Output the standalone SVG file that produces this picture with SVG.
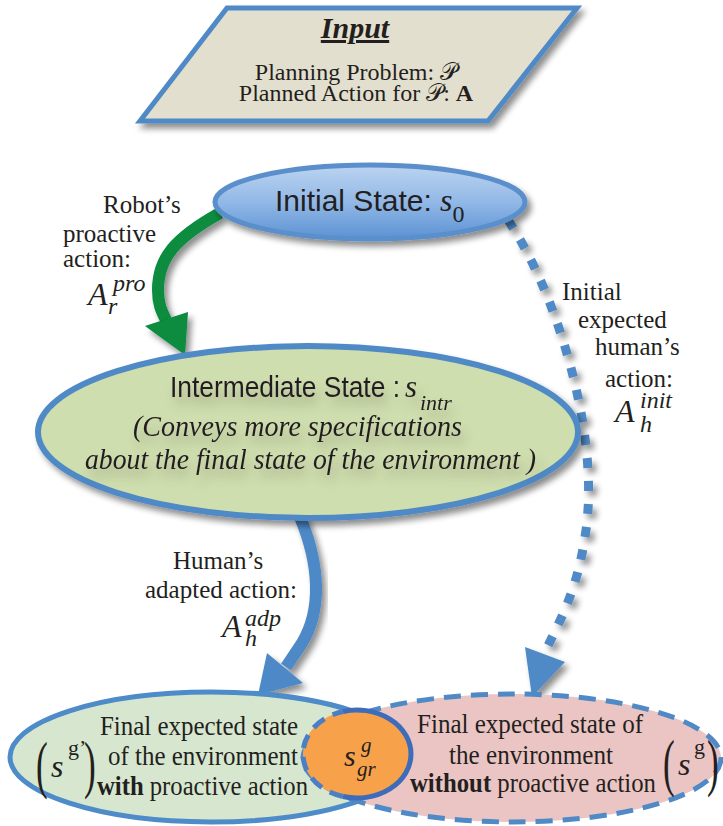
<svg xmlns="http://www.w3.org/2000/svg" width="723" height="826" viewBox="0 0 723 826">
<style>
.serif{font-family:"Liberation Serif","Times New Roman","DejaVu Serif",serif;fill:#231f20}
.sans{font-family:"Liberation Sans","DejaVu Sans",sans-serif;fill:#231f20}
.it{font-style:italic}
.math{font-family:"DejaVu Serif","DejaVu Sans","Liberation Serif",serif;fill:#231f20}
.edge{fill:none;stroke-linecap:butt}
</style>
<defs>
<filter id="sh" x="-10%" y="-10%" width="130%" height="140%">
<feGaussianBlur in="SourceAlpha" stdDeviation="3"/>
<feOffset dx="4" dy="5"/>
<feComponentTransfer><feFuncA type="linear" slope="0.45"/></feComponentTransfer>
<feMerge><feMergeNode/><feMergeNode in="SourceGraphic"/></feMerge>
</filter>
<filter id="tsh" x="-20%" y="-40%" width="140%" height="200%">
<feGaussianBlur in="SourceAlpha" stdDeviation="6"/>
<feOffset dx="4" dy="9"/>
<feComponentTransfer><feFuncA type="linear" slope="0.25"/></feComponentTransfer>
<feMerge><feMergeNode/><feMergeNode in="SourceGraphic"/></feMerge>
</filter>
<linearGradient id="gInit" x1="0" y1="0" x2="0" y2="1">
<stop offset="0" stop-color="#bcd4f1"/>
<stop offset="0.5" stop-color="#92b8e6"/>
<stop offset="1" stop-color="#5b92d3"/>
</linearGradient>
</defs>

<g id="input" filter="url(#sh)">
<polygon points="227,8 577,8 488,121 140,121" fill="#e3dfce" stroke="#4f8ac6" stroke-width="5" stroke-linejoin="miter"/>
</g>
<g id="input-text">
<text class="serif" x="355" y="38" font-size="30" font-weight="bold" font-style="italic" text-anchor="middle" text-decoration="underline">Input</text>
<text class="serif" x="356" y="80" font-size="24" text-anchor="middle">Planning Problem: <tspan class="math">𝒫</tspan></text>
<text class="serif" x="356" y="101" font-size="24" text-anchor="middle">Planned Action for <tspan class="math">𝒫</tspan>: <tspan font-weight="bold">A</tspan></text>
</g>

<g id="connectors">
<g id="e-proactive" filter="url(#sh)">
<path class="edge" d="M 220 213 C 175 238, 158 258, 158 290 C 158 305, 162 312, 166 320" stroke="#078c3f" stroke-width="12"/>
<polygon points="145,326 188,312 185,355" fill="#078c3f"/>
</g>
<g id="e-initial" filter="url(#sh)">
<path class="edge" d="M 508 220 C 555 290, 600 430, 586 530 C 578 590, 560 620, 546 650" stroke="#4f8ac6" stroke-width="9" stroke-dasharray="10 13"/>
<polygon points="525,647 565,662 532,697" fill="#4f8ac6"/>
</g>
<g id="e-adapted" filter="url(#sh)">
<path class="edge" d="M 300 517 C 320 565, 322 610, 302 643 L 286 667" stroke="#4d89c7" stroke-width="12"/>
<polygon points="267,653 303,683 258,695" fill="#4d89c7"/>
</g>
</g>

<g id="initial">
<ellipse cx="370" cy="202" rx="155" ry="37" fill="url(#gInit)" stroke="#5a8fcb" stroke-width="5" filter="url(#sh)"/>
<text class="sans" x="275" y="211" font-size="30">Initial State: <tspan class="serif it" font-size="32">s</tspan><tspan class="serif" font-size="24" dy="11">0</tspan></text>
</g>

<g id="intermediate">
<ellipse cx="308" cy="432" rx="270" ry="86" fill="#cfdeae" stroke="#4f8ac6" stroke-width="6" filter="url(#sh)"/>
<g filter="url(#tsh)">
<text class="sans" x="170" y="397" font-size="29" textLength="230" lengthAdjust="spacingAndGlyphs">Intermediate State :</text>
<text class="serif it" x="405" y="397" font-size="31">s</text>
<text class="serif it" x="420" y="410" font-size="22">intr</text>
<text class="serif it" x="133" y="436" font-size="29" textLength="329" lengthAdjust="spacingAndGlyphs">(Conveys more specifications</text>
<text class="serif it" x="85" y="469" font-size="29" textLength="451" lengthAdjust="spacingAndGlyphs">about the final state of the environment )</text>
</g>
</g>

<g id="final-with">
<ellipse cx="211" cy="757" rx="201" ry="65" fill="#d7e7cf" stroke="#4d8bc9" stroke-width="5"/>
</g>
<g id="final-without">
<ellipse cx="512" cy="758" rx="209" ry="64" fill="#ebc5c3" stroke="#4f8ac6" stroke-width="5" stroke-dasharray="17 10"/>
</g>
<g id="final-with-text">
<text class="serif" x="36" y="786" font-size="64" transform="translate(36 786) scale(0.55 1) translate(-36 -786)">(</text>
<text class="serif it" x="51" y="777" font-size="32">s</text>
<text class="serif" x="68" y="755" font-size="22">g’</text>
<text class="serif" x="84" y="786" font-size="64" transform="translate(84 786) scale(0.55 1) translate(-84 -786)">)</text>
<text class="serif" x="100" y="735" font-size="27" textLength="198" lengthAdjust="spacingAndGlyphs">Final expected state</text>
<text class="serif" x="108" y="765" font-size="27" textLength="190" lengthAdjust="spacingAndGlyphs">of the environment</text>
<text class="serif" x="97" y="795" font-size="27" textLength="211" lengthAdjust="spacingAndGlyphs"><tspan font-weight="bold">with</tspan> proactive action</text>
</g>
<g id="final-without-text">
<text class="serif" x="417" y="733" font-size="27" textLength="226" lengthAdjust="spacingAndGlyphs">Final expected state of</text>
<text class="serif" x="449" y="764" font-size="27" textLength="164" lengthAdjust="spacingAndGlyphs">the environment</text>
<text class="serif" x="410" y="792" font-size="27" textLength="246" lengthAdjust="spacingAndGlyphs"><tspan font-weight="bold">without</tspan> proactive action</text>
<text class="serif" x="663" y="784" font-size="64" transform="translate(663 784) scale(0.55 1) translate(-663 -784)">(</text>
<text class="serif it" x="678" y="775" font-size="32">s</text>
<text class="serif" x="694" y="754" font-size="22">g</text>
<text class="serif" x="707" y="784" font-size="64" transform="translate(707 784) scale(0.55 1) translate(-707 -784)">)</text>
</g>

<g id="overlap">
<ellipse cx="357" cy="754" rx="54" ry="44" fill="#f7a24a"/>
<path d="M 343 711.5 A 54 44 0 1 1 343 796.5" fill="none" stroke="#3e6cba" stroke-width="5"/>
<path d="M 343 796.5 A 54 44 0 0 1 343 711.5" fill="none" stroke="#4a7fc6" stroke-width="5" stroke-dasharray="14 9"/>
<text class="serif it" x="344" y="766" font-size="30">s</text>
<text class="serif it" x="361" y="752" font-size="21">g</text>
<text class="serif it" x="357" y="776" font-size="21">gr</text>
</g>

<g id="labels">
<text class="serif" x="103" y="213" font-size="25">Robot’s</text>
<text class="serif" x="63" y="242" font-size="25">proactive</text>
<text class="serif" x="63" y="267" font-size="25">action:</text>
<text class="serif it" x="88" y="305" font-size="32">A</text>
<text class="serif it" x="113" y="291" font-size="24">pro</text>
<text class="serif it" x="108" y="314" font-size="24">r</text>

<text class="serif" x="562" y="300" font-size="25">Initial</text>
<text class="serif" x="578" y="328" font-size="25">expected</text>
<text class="serif" x="595" y="355" font-size="25">human’s</text>
<text class="serif" x="605" y="387" font-size="25">action:</text>
<text class="serif it" x="615" y="422" font-size="32">A</text>
<text class="serif it" x="640" y="408" font-size="24">init</text>
<text class="serif it" x="640" y="432" font-size="24">h</text>

<text class="serif" x="173" y="569" font-size="25">Human’s</text>
<text class="serif" x="145" y="598" font-size="25">adapted action:</text>
<text class="serif it" x="222" y="637" font-size="32">A</text>
<text class="serif it" x="245" y="626" font-size="24">adp</text>
<text class="serif it" x="245" y="646" font-size="24">h</text>
</g>
</svg>
